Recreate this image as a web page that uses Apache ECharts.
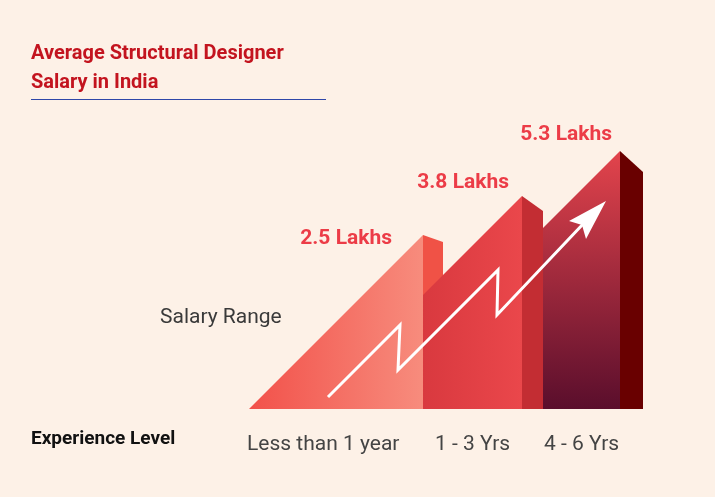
<!DOCTYPE html>
<html><head><meta charset="utf-8">
<script src="https://cdn.jsdelivr.net/npm/echarts@6/dist/echarts.min.js"></script>
<style>html,body{margin:0;padding:0;background:#fdf1e7;}#c{width:715px;height:497px;}</style>
</head><body><div id="c"></div>
<script>
// ---- data ----
const categories = ['Less than 1 year', '1 - 3 Yrs', '4 - 6 Yrs'];
const salaries = [2.5, 3.8, 5.3];
const valueLabels = ['2.5 Lakhs', '3.8 Lakhs', '5.3 Lakhs'];
const titleText = 'Average Structural Designer\nSalary in India';
const yLabelText = 'Salary Range';
const xLabelText = 'Experience Level';

// ---- layout / style ----
const Y_MIN = -3.3, Y_MAX = 7.0;
const SIDE_W = [20, 21, 23];
const SIDE_DROP = [7, 15, 21];
const LABEL_OFF = [[-31, 4], [-13, -13], [-8, -16]];
const FONT = 'Roboto, "Noto Sans", sans-serif';
const G = echarts.graphic;
const FRONT_FILL = [
  () => new G.LinearGradient(0, 0, 1, 0, [{offset: 0, color: '#f2514a'}, {offset: 1, color: '#f78c7d'}]),
  () => new G.LinearGradient(0, 0, 1, 0, [{offset: 0, color: '#d9393f'}, {offset: 1, color: '#ea474b'}]),
  () => new G.LinearGradient(0, 0, 0, 1, [{offset: 0, color: '#e3444c'}, {offset: 1, color: '#5a0e2c'}])
];
const SIDE_FILL = ['#f05246', '#c32d33', '#690000'];

function renderPrism(params, api) {
  const i = params.dataIndex;
  const v = api.value(1);
  const c = api.coord([i, v]);
  const base = api.coord([i, Y_MIN])[1];
  const bw = api.size([1, 0])[0];
  const bandRight = c[0] + bw / 2;
  const px = bandRight - SIDE_W[i];
  const py = c[1];
  const h = base - py;
  let start = px - h;
  if (i > 0) {
    const prevRight = bandRight - bw;
    const s = i === 1 ? prevRight - SIDE_W[i - 1] : prevRight;
    start = Math.max(start, s);
  }
  const front = start <= px - h
    ? [[px - h, base], [px, py], [px, base]]
    : [[start, base], [start, py + (px - start)], [px, py], [px, base]];
  const side = [[px, py], [px + SIDE_W[i], py + SIDE_DROP[i]], [px + SIDE_W[i], base], [px, base]];
  const labelX = i === 0 ? px - h - 2 : (start + px) / 2;
  return {
    type: 'group',
    children: [
      {type: 'polygon', shape: {points: side}, style: {fill: SIDE_FILL[i]}},
      {type: 'polygon', shape: {points: front}, style: {fill: FRONT_FILL[i]()}},
      {type: 'text', x: px + LABEL_OFF[i][0], y: py + LABEL_OFF[i][1],
        style: {text: valueLabels[i], fill: '#ec3c47', font: 'bold 21px ' + FONT, align: 'right', verticalAlign: 'middle'}},
      {type: 'text', x: labelX, y: base + 36,
        style: {text: categories[i], fill: '#444', font: '21px ' + FONT, align: i === 0 ? 'left' : 'center', verticalAlign: 'middle'}}
    ]
  };
}

function renderArrow(params, api) {
  const base = api.coord([0, Y_MIN])[1];
  const p = salaries.map((s, k) => {
    const c = api.coord([k, s]);
    const bw = api.size([1, 0])[0];
    return c[0] + bw / 2 - SIDE_W[k];
  });
  const pts = [
    [p[0] - 95, base - 12], [p[0] - 23, base - 84], [p[0] - 25, base - 39],
    [p[1] - 24, base - 139], [p[1] - 25, base - 94], [p[2] - 36, base - 186]
  ];
  const head = [[p[2] - 14, base - 208], [p[2] - 51, base - 188], [p[2] - 38, base - 184], [p[2] - 34, base - 170]];
  return {
    type: 'group',
    children: [
      {type: 'polyline', shape: {points: pts}, style: {stroke: '#fff', lineWidth: 3, fill: null, lineJoin: 'miter'}},
      {type: 'polygon', shape: {points: head}, style: {fill: '#fff'}}
    ]
  };
}

const chart = echarts.init(document.getElementById('c'), null, {renderer: 'canvas'});
chart.setOption({
  backgroundColor: '#fdf1e7',
  animation: false,
  title: {
    text: titleText, left: 31, top: 39, padding: 0,
    textStyle: {fontFamily: FONT, fontSize: 20, fontWeight: 'bold', color: '#c3141f', lineHeight: 29}
  },
  grid: {left: 343, right: 72, top: 100, bottom: 88},
  xAxis: {type: 'category', data: categories, show: false},
  yAxis: {type: 'value', min: Y_MIN, max: Y_MAX, show: false},
  graphic: [
    {type: 'line', shape: {x1: 31, y1: 99.5, x2: 326, y2: 99.5}, style: {stroke: '#2f47a8', lineWidth: 1}},
    {type: 'text', left: 160, top: 307, style: {text: yLabelText, fill: '#3a3a3a', font: '21px ' + FONT}},
    {type: 'text', left: 31, top: 430, style: {text: xLabelText, fill: '#111', font: 'bold 19px ' + FONT}}
  ],
  series: [
    {type: 'custom', renderItem: renderPrism, data: salaries.map((s, i) => [i, s]), clip: false, z: 2},
    {type: 'custom', renderItem: renderArrow, data: [[0, 0]], clip: false, z: 3, silent: true}
  ]
});
</script>
</body></html>
